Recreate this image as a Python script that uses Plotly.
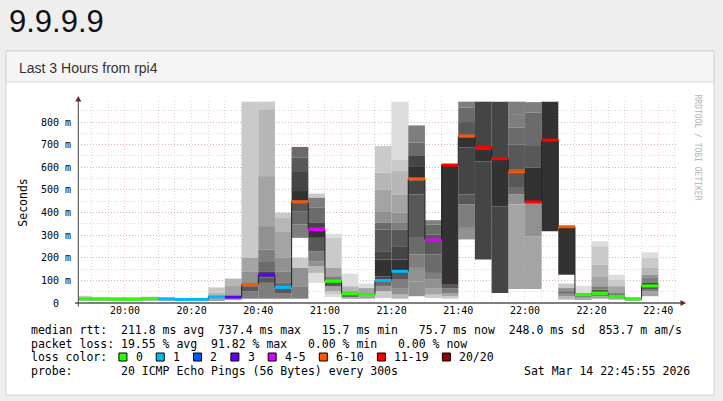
import pandas as pd
import plotly.graph_objects as go

# 5 minute bins from the rrd (start time of each step)
bin_start = [
    "2026-03-14 19:45", "2026-03-14 19:50", "2026-03-14 19:55",
    "2026-03-14 20:00", "2026-03-14 20:05", "2026-03-14 20:10", "2026-03-14 20:15",
    "2026-03-14 20:20", "2026-03-14 20:25", "2026-03-14 20:30", "2026-03-14 20:35",
    "2026-03-14 20:40", "2026-03-14 20:45", "2026-03-14 20:50", "2026-03-14 20:55",
    "2026-03-14 21:00", "2026-03-14 21:05", "2026-03-14 21:10", "2026-03-14 21:15",
    "2026-03-14 21:20", "2026-03-14 21:25", "2026-03-14 21:30", "2026-03-14 21:35",
    "2026-03-14 21:40", "2026-03-14 21:45", "2026-03-14 21:50", "2026-03-14 21:55",
    "2026-03-14 22:00", "2026-03-14 22:05", "2026-03-14 22:10", "2026-03-14 22:15",
    "2026-03-14 22:20", "2026-03-14 22:25", "2026-03-14 22:30", "2026-03-14 22:35",
]

# median rtt per bin (ms)
median_ms = [
    18.5, 18.0, 17.0, 16.8, 19.5, 18.0, 15.7, 16.0, 27, 26,
    81, 124, 69, 447, 325, 96, 41, 37, 100, 140,
    549, 279, 610, 737.4, 687, 638, 580, 447, 720, 337,
    37, 43, 28, 18, 75.7,
]

# lost pings out of 20 per bin
loss_pings = [
    0, 0, 0, 0, 0, 1, 1, 1, 1, 3,
    7, 3, 1, 8, 5, 0, 0, 0, 1, 1,
    8, 4, 12, 9, 14, 13, 10, 15, 18, 7,
    0, 0, 0, 0, 0,
]

# smoke: band edges (ms) per bin, and the ping ring of each band
# (ring 1 = outermost pings, 10 = around the median, 0 = no smoke)
smoke_edges_ms = [
    [12, 16, 21, 32],
    [12, 16, 20, 27],
    [12, 15, 19, 24],
    [12, 15, 19, 23],
    [13, 17, 22, 28],
    [13, 16, 20, 26],
    [11, 14, 17, 21],
    [11, 14, 18, 22],
    [12, 20, 32, 45, 69],
    [15, 22, 32, 75, 108],
    [19, 52, 74, 88, 140, 200, 890],
    [19, 89, 113, 140, 185, 236, 340, 561, 857, 890],
    [19, 44, 66, 89, 140, 200, 317, 376, 399],
    [19, 74, 155, 200, 288, 347, 406, 452, 495, 583, 642, 690],
    [89, 133, 162, 185, 229, 288, 332, 354, 421, 465, 484],
    [30, 37, 52, 74, 89, 103, 118, 155, 288, 306],
    [19, 30, 37, 52, 74, 130],
    [19, 30, 44, 66, 86],
    [22, 52, 74, 96, 103, 118, 192, 229, 325, 354, 406, 502, 576, 694],
    [19, 37, 66, 103, 133, 192, 251, 325, 354, 399, 480, 583, 635, 890],
    [30, 96, 155, 214, 288, 480, 542, 605, 650, 709, 785],
    [22, 37, 66, 103, 133, 214, 303, 347, 366],
    [19, 30, 44, 66, 81, 610],
    [281, 332, 436, 480, 687, 745, 800, 864, 890],
    [192, 627, 680, 890],
    [44, 428, 634, 890],
    [62, 436, 480, 509, 575, 590, 701, 775, 835, 890],
    [62, 295, 443, 598, 694, 842, 888],
    [317, 890],
    [15, 29, 41, 52, 66, 86, 125, 332],
    [14, 30, 37, 44, 76],
    [19, 30, 40, 49, 59, 74, 118, 170, 251, 273],
    [15, 24, 33, 44, 74, 103, 125],
    [13, 16, 19, 23],
    [30, 52, 66, 74, 89, 111, 125, 155, 199, 224],
]
smoke_rings = [
    [3, 6, 2],
    [3, 6, 2],
    [3, 6, 2],
    [3, 6, 2],
    [3, 6, 2],
    [3, 6, 2],
    [3, 6, 2],
    [3, 6, 2],
    [4, 6, 3, 2],
    [4, 6, 4, 3],
    [6, 8, 7, 5, 4, 2],
    [6, 8, 9, 7, 6, 5, 4, 3, 2],
    [6, 8, 7, 6, 5, 4, 3, 2],
    [6, 5, 2, 0, 6, 7, 8, 10, 9, 8, 7],
    [1, 3, 5, 6, 8, 10, 9, 7, 6, 2],
    [1, 2, 4, 8, 9, 6, 4, 2, 1],
    [4, 7, 5, 3, 1],
    [4, 7, 4, 1],
    [2, 5, 7, 8, 9, 10, 9, 8, 7, 5, 4, 3, 2],
    [3, 5, 6, 8, 10, 9, 8, 6, 5, 4, 3, 2, 1],
    [5, 5, 6, 7, 8, 9, 10, 9, 7, 6],
    [2, 4, 5, 6, 7, 8, 7, 6],
    [2, 4, 6, 8, 10],
    [5, 6, 8, 9, 10, 8, 7, 6],
    [9, 10, 9],
    [9, 10, 9],
    [4, 5, 7, 8, 9, 8, 7, 6, 6],
    [4, 5, 10, 8, 7, 6],
    [10],
    [3, 5, 7, 5, 2, 0, 10],
    [4, 6, 5, 1],
    [4, 6, 9, 8, 6, 4, 3, 2, 1],
    [4, 7, 6, 4, 2, 1],
    [3, 6, 2],
    [4, 6, 8, 9, 6, 5, 3, 2, 1],
]

# loss colour legend
loss_labels = ["0", "1", "2", "3", "4-5", "6-10", "11-19", "20/20"]
loss_upper = [0, 1, 2, 3, 5, 10, 19, 20]
loss_colors = ["#26ff00", "#00b8ff", "#0059ff", "#5e00ff",
               "#dd00ff", "#ff5500", "#ff0000", "#990000"]

stats_rtt = ("median rtt:  211.8 ms avg  737.4 ms max   15.7 ms min"
             "   75.7 ms now  248.0 ms sd  853.7 m am/s")
stats_loss = "packet loss: 19.55 % avg  91.82 % max   0.00 % min   0.00 % now"
probe_text = "probe:       20 ICMP Echo Pings (56 Bytes) every 300s"
stamp_text = "Sat Mar 14 22:45:55 2026"

MONO = "DejaVu Sans Mono"
SANS = "Liberation Sans, Arial, sans-serif"

# plot area in the 723x401 page
L, R, T, B = 78, 45, 101, 98
PW, PH = 723 - L - R, 401 - T - B


def px(x):
    return (x - L) / PW


def py(y):
    return (401 - B - y) / PH


def nb(s):
    return s.replace(" ", "\u00a0")


starts = pd.to_datetime(bin_start)
step = pd.Timedelta(minutes=5)
mids = starts + step / 2

fig = go.Figure()

# smoke
for ring in range(1, 11):
    xs, bases, heights = [], [], []
    for t, edges, rings in zip(mids, smoke_edges_ms, smoke_rings):
        for lo, hi, r in zip(edges[:-1], edges[1:], rings):
            if r == ring:
                xs.append(t)
                bases.append(lo)
                heights.append(hi - lo)
    g = int(190 / 10 * (10 - ring)) + 50
    fig.add_trace(go.Bar(
        x=xs, y=heights, base=bases, width=300000,
        marker=dict(color=f"rgb({g},{g},{g})", line=dict(width=0)),
        hoverinfo="skip", showlegend=False,
    ))

# median step line
fig.add_trace(go.Scatter(
    x=list(starts) + [starts[-1] + step],
    y=median_ms + [median_ms[-1]],
    mode="lines", line=dict(color="#202020", width=1, shape="hv"),
    hoverinfo="skip", showlegend=False,
))

# coloured median per loss level
for upper, color in zip(loss_upper, loss_colors):
    xs, ys = [], []
    for t, m, lp in zip(starts, median_ms, loss_pings):
        lvl = next(u for u in loss_upper if lp <= u)
        if lvl == upper:
            xs += [t, t + step, None]
            ys += [m, m, None]
    if xs:
        fig.add_trace(go.Scatter(
            x=xs, y=ys, mode="lines", line=dict(color=color, width=3),
            hoverinfo="skip", showlegend=False,
        ))

shapes = [
    # panel
    dict(type="rect", xref="paper", yref="paper", layer="below",
         x0=px(6), x1=px(714), y0=py(51), y1=py(395),
         fillcolor="white", line=dict(color="#d4d4d4", width=1)),
    dict(type="rect", xref="paper", yref="paper", layer="below",
         x0=px(6), x1=px(714), y0=py(51), y1=py(82),
         fillcolor="#f5f5f5", line=dict(color="#d4d4d4", width=1)),
    # axes
    dict(type="line", xref="paper", yref="paper", layer="above",
         x0=px(75), x1=px(683), y0=py(303), y1=py(303),
         line=dict(color="#000000", width=1)),
    dict(type="line", xref="paper", yref="paper", layer="above",
         x0=px(78.3), x1=px(78.3), y0=py(306.5), y1=py(99),
         line=dict(color="#444444", width=1)),
    dict(type="path", xref="paper", yref="paper", layer="above",
         path=f"M {px(686)},{py(303)} L {px(680.5)},{py(300)} L {px(680.5)},{py(306)} Z",
         fillcolor="#7a1e1e", line=dict(width=0)),
    dict(type="path", xref="paper", yref="paper", layer="above",
         path=f"M {px(78.3)},{py(96)} L {px(75.3)},{py(101.5)} L {px(81.3)},{py(101.5)} Z",
         fillcolor="#7a1e1e", line=dict(width=0)),
]

annotations = [
    dict(text="9.9.9.9", x=px(6.5), y=py(21), xanchor="left", yanchor="middle",
         font=dict(family=SANS, size=31, color="#111111")),
    dict(text="Last 3 Hours from rpi4", x=px(17), y=py(67.5),
         xanchor="left", yanchor="middle",
         font=dict(family=SANS, size=14, color="#333333")),
    dict(text="Seconds", x=px(22.2), y=py(202.5), textangle=-90,
         xanchor="center", yanchor="middle",
         font=dict(family=MONO, size=11.5, color="#000000")),
    dict(text=nb("RRDTOOL / TOBI OETIKER"), x=px(697), y=py(147.5), textangle=90,
         xanchor="center", yanchor="middle",
         font=dict(family=MONO, size=8, color="#b4b4b4")),
    dict(text=nb(stats_rtt), x=px(28.6), y=py(329.5), xanchor="left", yanchor="middle",
         font=dict(family=MONO, size=11.5, color="#000000")),
    dict(text=nb(stats_loss), x=px(28.6), y=py(343.5), xanchor="left", yanchor="middle",
         font=dict(family=MONO, size=11.5, color="#000000")),
    dict(text=nb("loss color:"), x=px(28.6), y=py(357.3), xanchor="left", yanchor="middle",
         font=dict(family=MONO, size=11.5, color="#000000")),
    dict(text=nb(probe_text), x=px(28.6), y=py(371.2), xanchor="left", yanchor="middle",
         font=dict(family=MONO, size=11.5, color="#000000")),
    dict(text=nb(stamp_text), x=px(691.5), y=py(371.2), xanchor="right", yanchor="middle",
         font=dict(family=MONO, size=11.5, color="#000000")),
]

# loss colour boxes
bx = 118.9
for label, color in zip(loss_labels, loss_colors):
    shapes.append(dict(type="rect", xref="paper", yref="paper", layer="above",
                       x0=px(bx), x1=px(bx + 8), y0=py(353), y1=py(361),
                       fillcolor=color, line=dict(color="#000000", width=1)))
    annotations.append(dict(text=label, x=px(bx + 14.8), y=py(357.3),
                            xanchor="left", yanchor="middle",
                            font=dict(family=MONO, size=11.5, color="#000000")))
    bx += 30.4 + len(label) * 6.92

for a in annotations:
    a.update(xref="paper", yref="paper", showarrow=False)

MAJOR = "rgba(225,120,120,0.38)"
MINOR = "rgba(170,170,170,0.45)"

fig.update_layout(
    width=723, height=401,
    margin=dict(l=L, r=R, t=T, b=B, pad=0),
    paper_bgcolor="#eeeeee", plot_bgcolor="white",
    barmode="overlay", showlegend=False,
    shapes=shapes, annotations=annotations,
    xaxis=dict(
        type="date",
        range=["2026-03-14 19:45:55", "2026-03-14 22:45:55"],
        tick0="2026-03-14 20:00", dtick=1200000, tickformat="%H:%M",
        showgrid=True, gridcolor=MAJOR, griddash="1px,2px", gridwidth=1,
        minor=dict(tick0="2026-03-14 19:50", dtick=300000, showgrid=True,
                   gridcolor=MINOR, griddash="1px,2px", gridwidth=1),
        showline=False, zeroline=False, ticks="",
        tickfont=dict(family=MONO, size=10, color="#000000"),
        layer="above traces", fixedrange=True,
    ),
    yaxis=dict(
        range=[0, 893],
        tickvals=[0, 100, 200, 300, 400, 500, 600, 700, 800],
        ticktext=[nb("0  "), nb("100 m"), nb("200 m"), nb("300 m"), nb("400 m"),
                  nb("500 m"), nb("600 m"), nb("700 m"), nb("800 m")],
        showgrid=True, gridcolor=MAJOR, griddash="1px,2px", gridwidth=1,
        minor=dict(dtick=50, showgrid=True, gridcolor=MINOR,
                   griddash="1px,2px", gridwidth=1),
        showline=False, zeroline=False, ticks="",
        ticklabelstandoff=6,
        tickfont=dict(family=MONO, size=10, color="#000000"),
        layer="above traces", fixedrange=True,
    ),
)

fig.write_html(
    "out.html",
    config={"displayModeBar": False},
    post_script="document.body.style.margin='0';document.body.style.overflow='hidden';",
)
